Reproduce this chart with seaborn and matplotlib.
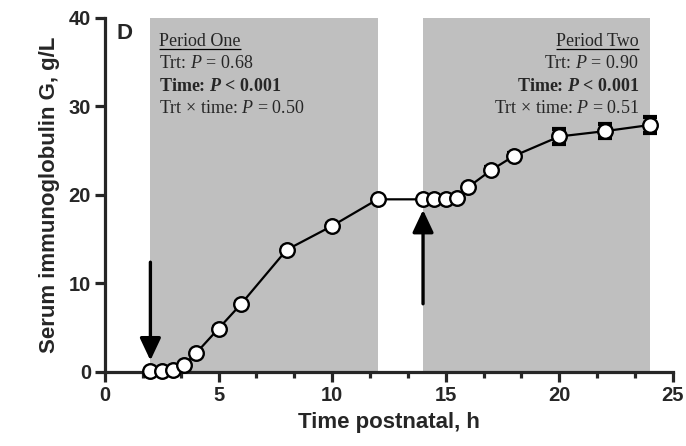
import numpy as np
import pandas as pd
import seaborn as sns
import matplotlib
matplotlib.use('Agg')
from matplotlib import pyplot as plt
from matplotlib.ticker import MultipleLocator, AutoMinorLocator

# Serum IgG over time
hours = [2, 2.5, 3, 3.5, 4, 5, 6, 8, 10, 12,
         14, 14.5, 15, 15.5, 16, 17, 18, 20, 22, 24]
igg = [0.1, 0.1, 0.2, 0.8, 2.1, 4.9, 7.7, 13.8, 16.5, 19.5,
       19.5, 19.5, 19.5, 19.7, 20.9, 22.8, 24.4, 26.6, 27.2, 27.9]
sem = [0.1, 0.1, 0.1, 0.1, 0.1, 0.2, 0.2, 0.2, 0.2, 0.2,
       0.2, 0.2, 0.2, 0.2, 0.2, 0.3, 0.3, 0.8, 0.8, 0.9]
periods = [(2, 12), (14, 24)]
arrow_x = [2, 14]
period_one = ['Period One', 'Trt: $P$ = 0.68', r'Time: $\mathbfit{P}$ < 0.001',
              'Trt × time: $P$ = 0.50']
period_two = ['Period Two', 'Trt: $P$ = 0.90', r'Time: $\mathbfit{P}$ < 0.001',
              'Trt × time: $P$ = 0.51']

sns.set_style('ticks')
plt.rcParams['font.family'] = ['Liberation Sans', 'DejaVu Sans']
plt.rcParams['mathtext.fontset'] = 'custom'
plt.rcParams['mathtext.rm'] = 'Liberation Serif'
plt.rcParams['mathtext.it'] = 'Liberation Serif:italic'
plt.rcParams['mathtext.bf'] = 'Liberation Serif:bold'
plt.rcParams['mathtext.bfit'] = 'Liberation Serif:italic:bold'

df = pd.DataFrame({'hours': hours, 'igg': igg, 'err': sem})

fig = plt.figure(figsize=(6.86, 4.46), dpi=100)
ax = fig.add_axes([0.153, 0.166, 0.828, 0.794])

for lo, hi in periods:
    ax.axvspan(lo, hi, ymin=0, ymax=1, color='#bfbfbf', lw=0, zorder=0)

ax.errorbar(df['hours'], df['igg'], yerr=df['err'], fmt='none', ecolor='black',
            elinewidth=2.5, capsize=5, capthick=3, zorder=2)
sns.lineplot(data=df, x='hours', y='igg', ax=ax, color='black', lw=1.6,
             marker='o', markersize=10.5, markerfacecolor='white',
             markeredgecolor='black', markeredgewidth=1.7, zorder=3,
             clip_on=False)

# feeding arrows
arrow_kw = dict(arrowstyle='-|>,head_length=0.85,head_width=0.4', lw=2.4,
                color='black', shrinkA=0, shrinkB=0, mutation_scale=16)
ax.annotate('', xy=(arrow_x[0], 1.3), xytext=(arrow_x[0], 12.4),
            arrowprops=arrow_kw)
ax.annotate('', xy=(arrow_x[1], 18.3), xytext=(arrow_x[1], 7.7),
            arrowprops=arrow_kw)

ax.set_xlim(0, 25)
ax.set_ylim(0, 40)
ax.xaxis.set_major_locator(MultipleLocator(5))
ax.xaxis.set_minor_locator(AutoMinorLocator(3))
ax.yaxis.set_major_locator(MultipleLocator(10))
sns.despine(ax=ax)
for side in ['left', 'bottom']:
    ax.spines[side].set_linewidth(2.3)
ax.tick_params(which='major', length=7, width=2.3, labelsize=14.5, pad=3)
ax.tick_params(which='minor', length=4.5, width=2.3)
for lab in ax.get_xticklabels() + ax.get_yticklabels():
    lab.set_fontweight('bold')
ax.set_xlabel('Time postnatal, h', fontsize=16, fontweight='bold', labelpad=5)
ax.set_ylabel('Serum immunoglobulin G, g/L', fontsize=16, fontweight='bold',
              labelpad=6)

ax.text(0.021, 0.985, 'D', transform=ax.transAxes, fontsize=16,
        fontweight='bold', va='top', ha='left')

serif = ['Liberation Serif', 'DejaVu Serif']
header_texts = []
for lines, xpos, ha in [(period_one, 2.4, 'left'), (period_two, 23.5, 'right')]:
    for i, line in enumerate(lines):
        weight = 'bold' if i == 2 else 'normal'
        t = ax.text(xpos, 37.3 - i * 2.5, line, ha=ha, va='center',
                    fontsize=13, family=serif, fontweight=weight)
        if i == 0:
            header_texts.append(t)

# underline the period headers
fig.canvas.draw()
renderer = fig.canvas.get_renderer()
inv = ax.transData.inverted()
for t in header_texts:
    bb = t.get_window_extent(renderer)
    (x0, y0), (x1, _) = inv.transform([(bb.x0, bb.y0 + 1), (bb.x1, bb.y0)])
    ax.plot([x0, x1], [y0, y0], color='black', lw=0.9, solid_capstyle='butt')

fig.savefig('out.png', dpi=100)
